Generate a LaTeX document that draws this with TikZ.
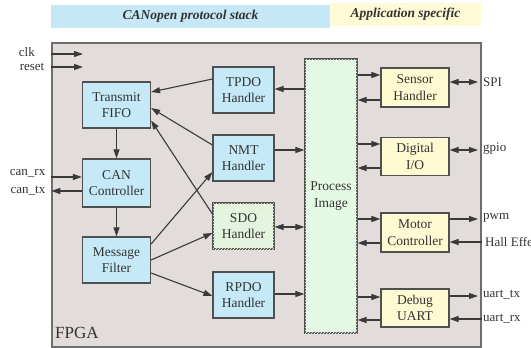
\documentclass[tikz,border=0pt]{standalone}
\usepackage{fontspec}
\setmainfont{Liberation Serif}
\usetikzlibrary{arrows.meta,patterns}
\definecolor{fpgabg}{HTML}{E2DCDA}
\definecolor{fpgaline}{HTML}{6E6E6E}
\definecolor{boxline}{HTML}{505050}
\definecolor{cblue}{HTML}{C6E9F8}
\definecolor{cyellow}{HTML}{FFFAD2}
\definecolor{cgreen}{HTML}{DDF8DC}
\definecolor{csdo}{HTML}{D8F1E4}
\definecolor{bandblue}{HTML}{C6E8F6}
\definecolor{bandyellow}{HTML}{FFFBD6}
\definecolor{txt}{HTML}{333333}
\definecolor{wire}{HTML}{3A3A3A}
\tikzset{
  blk/.style={draw=boxline, line width=1.2pt, minimum width=61pt, minimum height=46pt,
    inner sep=0pt, align=center, text=txt, font=\fontsize{13.5}{16.5}\selectfont},
  bluebox/.style={blk, fill=cblue},
  yelbox/.style={blk, fill=cyellow, minimum width=68pt},
  lbl/.style={inner sep=0pt, text=txt, font=\fontsize{13}{15}\selectfont},
  arr/.style={draw=wire, line width=1.1pt, -{Triangle[length=9pt,width=6pt]}},
  darr/.style={draw=wire, line width=1.1pt, {Triangle[length=9pt,width=6pt]}-{Triangle[length=9pt,width=6pt]}},
}
\begin{document}
\begin{tikzpicture}[x=1pt,y=-1pt]
\useasboundingbox (0,0) rectangle (531,348);
% bands
\node[fill=bandblue, minimum width=279pt, minimum height=23pt, inner sep=0pt, text=txt,
  font=\fontsize{13.5}{16}\selectfont\bfseries\itshape] (band1) at (190.5,16.5) {CANopen protocol stack};
\node[fill=bandyellow, minimum width=151pt, minimum height=23pt, inner sep=0pt, text=txt,
  font=\fontsize{13.5}{16}\selectfont\bfseries\itshape] (band2) at (405.5,14.5) {Application specific};
% FPGA
\node[draw=fpgaline, fill=fpgabg, line width=1.4pt, minimum width=429pt, minimum height=304pt, inner sep=0pt] (fpga) at (266.5,195) {};
\node[anchor=south west, inner sep=0pt, text=txt, font=\fontsize{17}{19}\selectfont] (fpgalbl) at (55,339) {FPGA};
% left column
\node[bluebox, minimum width=68pt] (fifo) at (116.5,105) {Transmit\\FIFO};
\node[bluebox, minimum width=68pt, minimum height=48pt] (can) at (116.5,183) {CAN\\Controller};
\node[bluebox, minimum width=68pt] (mf) at (116.5,260) {Message\\Filter};
% middle column
\node[bluebox] (tpdo) at (243.5,90) {TPDO\\Handler};
\node[bluebox] (nmt) at (243.5,158) {NMT\\Handler};
\node[blk, fill=csdo, postaction={pattern=north east lines, pattern color=cyellow}] (sdo) at (243.5,226) {SDO\\Handler};
\node[bluebox] (rpdo) at (243.5,295) {RPDO\\Handler};
% process image
\node[blk, fill=cgreen, postaction={pattern=north east lines, pattern color=white!70!cgreen}, minimum width=52pt, minimum height=274pt] (proc) at (331,196) {Process\\Image};
% right column
\node[yelbox, minimum height=39pt] (sensor) at (415,87.5) {Sensor\\Handler};
\node[yelbox, minimum height=38pt] (dio) at (415,156.5) {Digital\\I/O};
\node[yelbox, minimum height=39pt] (motor) at (415,232.5) {Motor\\Controller};
\node[yelbox, minimum height=38pt] (uart) at (415,308) {Debug\\UART};
% external labels
\node[lbl, anchor=east] (clk) at (35,52) {clk};
\node[lbl, anchor=east] (reset) at (44.5,66.5) {reset};
\node[lbl, anchor=east] (canrx) at (45.5,173.5) {can\_rx};
\node[lbl, anchor=east] (cantx) at (45.5,190.5) {can\_tx};
\node[lbl, anchor=west] (spi) at (483,82) {SPI};
\node[lbl, anchor=west] (gpio) at (483,149) {gpio};
\node[lbl, anchor=west] (pwm) at (483,218) {pwm};
\node[lbl, anchor=west] (hall) at (485,242) {Hall Effect};
\node[lbl, anchor=west] (utx) at (483,295) {uart\_tx};
\node[lbl, anchor=west] (urx) at (483,318.5) {uart\_rx};
% coordinates
\coordinate (clkE) at (83,54);
\coordinate (resetE) at (83,67);
\coordinate (spiE) at (478,82);
\coordinate (gpioE) at (478,150);
\coordinate (pwmE) at (478,219);
\coordinate (utxE) at (478,296);
% left inputs
\draw[arr] (fpga.west |- clkE) -- (clkE);
\draw[arr] (fpga.west |- resetE) -- (resetE);
\draw[arr] (fpga.west |- 0,177) -- (can.west |- 0,177);
\draw[arr] (can.west |- 0,191) -- (fpga.west |- 0,191);
% left column internal
\draw[arr] (fifo) -- (can);
\draw[arr] (can) -- (mf);
\draw[arr] (tpdo.west |- 0,79) -- (fifo.east |- 0,92);
\draw[arr] (nmt.west |- 0,145) -- (fifo.east |- 0,108);
\draw[arr] (sdo.west |- 0,214) -- (fifo.east |- 0,120.5);
\draw[arr] (mf.east |- 0,244) -- (nmt.west |- 0,172);
\draw[arr] (mf.east |- 0,260) -- (sdo.west |- 0,233);
\draw[arr] (mf.east |- 0,273) -- (rpdo.west |- 0,296);
% middle to process
\draw[arr] (proc.west |- 0,89) -- (tpdo.east |- 0,89);
\draw[arr] (nmt.east |- 0,150) -- (proc.west |- 0,150);
\draw[darr] (sdo.east |- 0,227) -- (proc.west |- 0,227);
\draw[arr] (rpdo.east |- 0,294) -- (proc.west |- 0,294);
% process to right
\draw[arr] (proc.east |- 0,75) -- (sensor.west |- 0,75);
\draw[arr] (sensor.west |- 0,100) -- (proc.east |- 0,100);
\draw[arr] (proc.east |- 0,144) -- (dio.west |- 0,144);
\draw[arr] (dio.west |- 0,168) -- (proc.east |- 0,168);
\draw[arr] (proc.east |- 0,219) -- (motor.west |- 0,219);
\draw[arr] (motor.west |- 0,243) -- (proc.east |- 0,243);
\draw[arr] (proc.east |- 0,297) -- (uart.west |- 0,297);
\draw[arr] (uart.west |- 0,320) -- (proc.east |- 0,320);
% right externals
\draw[darr] (sensor.east |- spiE) -- (spiE);
\draw[darr] (dio.east |- gpioE) -- (gpioE);
\draw[arr] (motor.east |- pwmE) -- (pwmE);
\draw[arr] (fpga.east |- 0,242) -- (motor.east |- 0,242);
\draw[arr] (uart.east |- utxE) -- (utxE);
\draw[arr] (fpga.east |- 0,319) -- (uart.east |- 0,319);
\end{tikzpicture}
\end{document}
